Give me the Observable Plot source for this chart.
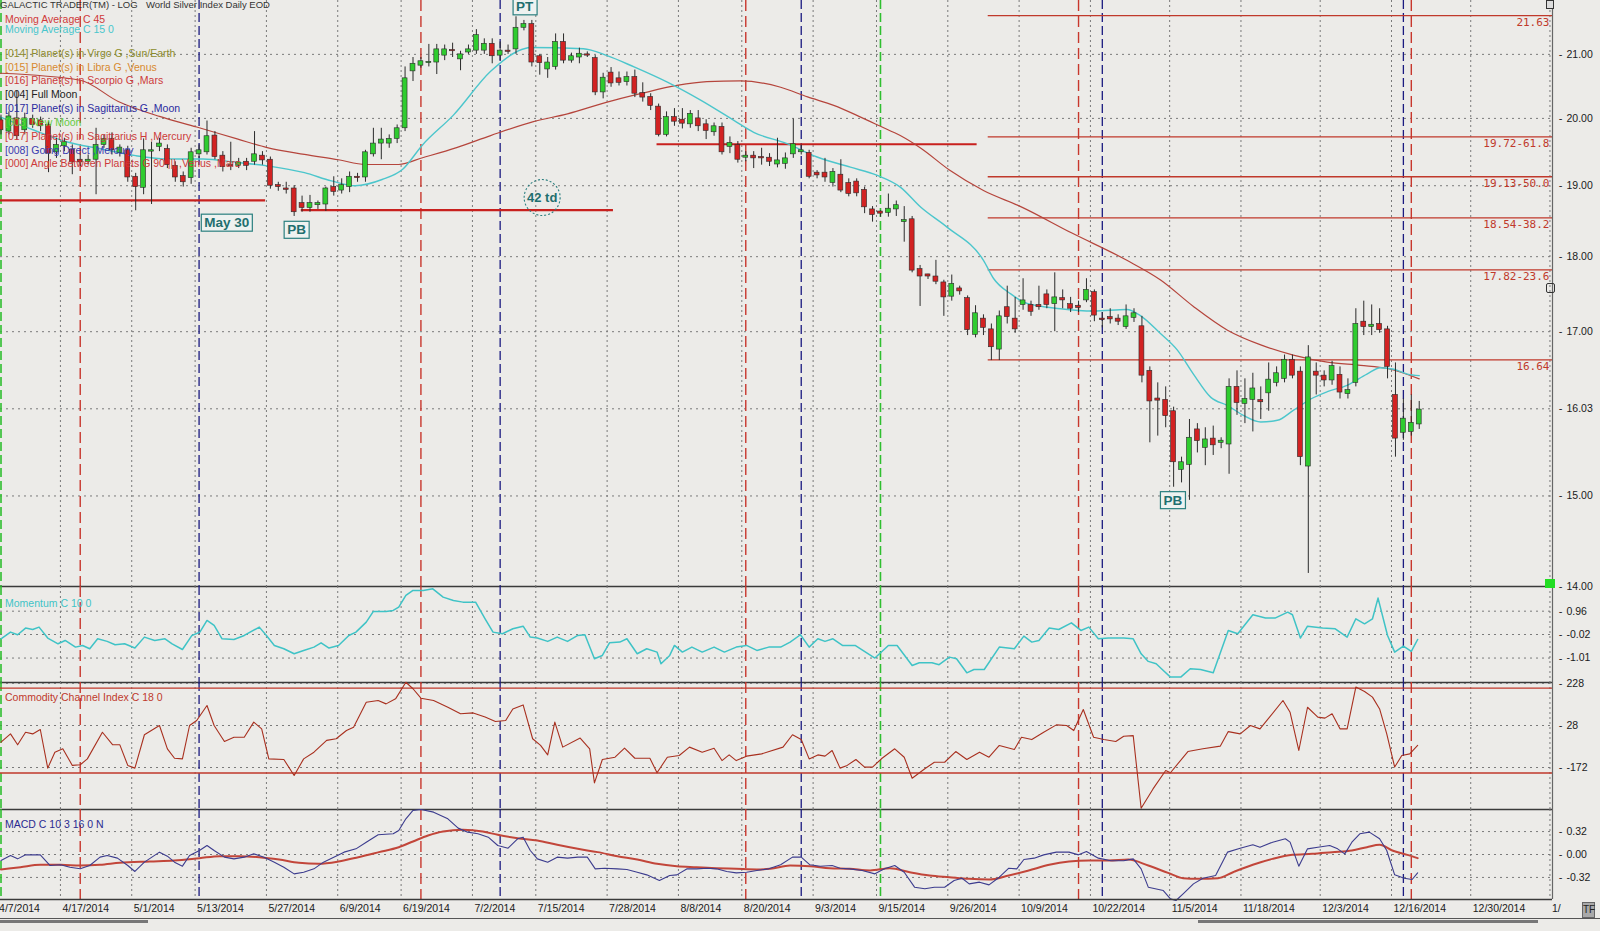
<!DOCTYPE html>
<html><head><meta charset="utf-8">
<script src="https://cdn.jsdelivr.net/npm/d3@7"></script>
<script src="https://cdn.jsdelivr.net/npm/@observablehq/plot@0.6"></script>
<style>
html,body{margin:0;padding:0;background:#ecebe8;}
#wrap{position:relative;width:1600px;height:931px;overflow:hidden;background:#ecebe8;font-family:"Liberation Sans",Arial,sans-serif;}
#wrap svg{position:absolute;left:0;overflow:visible;}
.lg{position:absolute;font-size:10.5px;white-space:nowrap;line-height:12px;z-index:5;}
.ui{position:absolute;z-index:6;}
</style></head>
<body><div id="wrap"></div>
<script>
// ---------- DATA (bar index 0 = 4/7/2014, trading days) ----------
const candleOpen = [
19.97,19.80,20.00,19.82,19.99,19.97,19.90,19.49,19.58,19.53,
19.38,19.35,19.38,19.60,19.69,19.48,19.52,19.13,18.97,19.50,
19.57,19.54,19.29,19.14,19.11,19.46,19.49,19.74,19.44,19.30,
19.29,19.35,19.35,19.44,19.38,19.01,18.96,18.96,18.75,18.68,
18.72,18.73,18.98,18.93,18.98,19.13,19.12,19.46,19.62,19.62,
19.69,19.85,20.73,20.82,20.86,20.87,20.98,21.07,20.92,21.03,
21.06,21.06,21.17,20.98,21.06,21.08,21.43,21.49,20.97,20.76,
20.80,21.20,20.90,20.95,21.00,20.94,20.40,20.71,20.62,20.56,
20.64,20.39,20.33,20.18,19.75,20.02,19.98,19.91,20.00,19.91,
19.79,19.87,19.57,19.60,19.41,19.44,19.42,19.41,19.31,19.32,
19.46,19.49,19.48,19.19,19.19,19.04,19.16,19.04,19.06,18.94,
18.66,18.60,18.61,18.66,18.48,18.52,17.83,17.73,17.73,17.65,
17.46,17.57,17.44,16.96,17.17,17.03,16.77,17.32,17.17,17.35,
17.35,17.35,17.49,17.36,17.44,17.36,17.31,17.41,17.52,17.17,
17.19,17.17,17.06,17.18,17.07,16.50,16.13,16.14,16.00,15.30,
15.36,15.78,15.56,15.67,15.62,15.60,16.30,16.09,16.14,16.11,
16.22,16.35,16.40,16.64,16.49,15.34,16.49,16.44,16.38,16.45,
16.21,16.35,17.13,17.06,17.10,17.03,16.20,15.74,15.75,15.84];
const candleHigh = [
20.05,20.10,20.42,20.08,20.05,20.02,19.95,19.70,19.70,19.60,
19.45,19.45,19.85,19.75,19.78,19.60,19.58,19.18,19.69,19.64,
19.70,19.60,19.35,19.20,19.55,19.60,19.96,19.80,19.50,19.64,
19.40,19.40,19.80,19.50,19.42,19.05,19.05,19.00,18.85,18.86,
18.78,18.98,19.13,19.10,19.20,19.18,19.52,19.85,19.85,19.75,
19.90,20.80,20.95,20.95,21.16,21.16,21.15,21.18,21.05,21.15,
21.40,21.25,21.25,21.20,21.15,21.61,21.55,21.55,21.00,20.95,
21.33,21.33,21.02,21.10,21.04,20.98,20.70,20.79,20.72,20.72,
20.75,20.55,20.38,20.22,20.10,20.15,20.15,20.12,20.12,19.98,
19.93,19.93,19.72,19.65,19.50,19.50,19.55,19.47,19.70,19.48,
19.99,19.60,19.52,19.22,19.40,19.25,19.38,19.10,19.10,18.98,
18.70,18.64,18.88,18.78,18.70,18.56,17.88,17.76,17.95,17.68,
17.75,17.60,17.47,17.34,17.22,17.10,17.27,17.60,17.45,17.70,
17.40,17.60,17.55,17.78,17.55,17.45,17.40,17.70,17.55,17.25,
17.30,17.22,17.35,17.30,17.20,16.55,16.35,16.30,16.05,15.45,
15.90,15.85,15.80,15.82,15.68,16.40,16.50,16.40,16.47,16.30,
16.60,16.55,16.70,16.70,16.55,16.82,16.60,16.50,16.62,16.55,
16.40,17.30,17.40,17.35,17.30,17.07,16.60,16.15,16.20,16.12];
const candleLow = [
19.75,19.75,19.68,19.75,19.85,19.80,19.19,19.40,19.50,19.16,
19.28,19.30,18.87,19.55,19.45,19.42,19.05,18.64,18.87,18.73,
19.50,19.25,19.05,18.98,19.02,19.40,19.45,19.38,19.20,19.22,
19.25,19.22,19.30,19.30,18.95,18.92,18.88,18.56,18.62,18.62,
18.66,18.63,18.85,18.88,18.90,19.05,19.05,19.42,19.38,19.55,
19.62,19.80,20.57,20.78,20.80,20.68,20.90,20.95,20.74,21.00,
21.00,21.00,20.85,20.90,21.00,21.00,21.38,20.80,20.67,20.62,
20.75,20.85,20.86,20.85,20.95,20.35,20.30,20.48,20.50,20.50,
20.32,20.25,20.12,19.72,19.72,19.88,19.84,19.85,19.80,19.68,
19.73,19.45,19.47,19.33,19.35,19.25,19.30,19.28,19.26,19.24,
19.40,19.45,19.10,19.10,19.05,18.98,18.90,18.84,18.84,18.60,
18.48,18.55,18.55,18.56,18.20,17.78,17.33,17.69,17.62,17.20,
17.40,17.48,16.95,16.92,16.95,16.63,16.63,17.10,16.98,17.28,
17.20,17.28,17.30,17.00,17.30,17.25,17.25,17.38,17.13,17.05,
17.10,17.08,17.03,17.12,16.35,15.62,15.70,15.80,15.10,15.15,
14.95,15.50,15.35,15.47,15.55,15.25,15.95,15.85,15.75,15.90,
16.00,16.30,16.35,16.40,15.35,14.14,16.20,16.30,16.32,16.15,
16.15,16.30,16.95,16.95,16.98,16.40,15.45,15.65,15.70,15.78];
const candleClose = [
19.82,20.03,19.73,20.00,19.90,19.88,19.47,19.60,19.64,19.34,
19.34,19.38,19.60,19.69,19.52,19.56,19.12,18.98,19.52,19.52,
19.62,19.30,19.12,19.05,19.49,19.52,19.73,19.42,19.27,19.28,
19.34,19.29,19.46,19.37,19.00,18.98,18.94,18.62,18.68,18.75,
18.73,18.96,18.91,19.01,19.13,19.11,19.49,19.62,19.68,19.69,
19.85,20.62,20.85,20.89,20.88,21.08,21.08,21.05,21.00,21.08,
21.31,21.17,20.97,21.06,21.04,21.43,21.49,20.87,20.86,20.87,
21.20,20.90,20.97,21.01,20.98,20.40,20.63,20.54,20.55,20.64,
20.38,20.32,20.19,19.75,20.02,19.95,19.92,20.07,19.88,19.81,
19.88,19.49,19.63,19.38,19.44,19.40,19.40,19.35,19.37,19.40,
19.61,19.52,19.13,19.15,19.12,19.20,18.93,18.88,18.89,18.69,
18.58,18.59,18.67,18.72,18.51,17.81,17.73,17.72,17.66,17.45,
17.63,17.53,17.02,17.24,17.05,16.80,17.20,17.19,17.03,17.41,
17.26,17.32,17.35,17.45,17.41,17.30,17.30,17.55,17.21,17.15,
17.16,17.13,17.20,17.24,16.44,16.12,16.12,15.94,15.39,15.39,
15.68,15.64,15.66,15.59,15.63,16.30,16.10,16.15,16.28,16.10,
16.39,16.47,16.64,16.44,15.45,16.67,16.44,16.38,16.56,16.23,
16.26,17.10,17.06,17.09,17.02,16.55,15.67,15.91,15.86,16.02];

const ma45Bar = [-0.06,10.0,14.8,20.0,24.7,29.8,33.6,38.3,42.6,46.0,50.2,53.2,57.5,61.8,67.2,71.5,76.5,80.7,85.3,89.1,93.3,98.4,101.8,105.1,108.5,111.0,113.5,116.1,119.8,124.0,128.7,135.1,142.1,146.4,150.5,154.8,159.0,163.1,167.4,171.6,175.0,179.0];
const ma45Val = [20.70,20.59,20.26,20.03,19.87,19.69,19.56,19.46,19.38,19.31,19.31,19.41,19.56,19.74,19.95,20.07,20.25,20.38,20.51,20.57,20.58,20.48,20.33,20.20,20.02,19.88,19.74,19.55,19.22,18.93,18.70,18.33,17.95,17.68,17.33,17.02,16.83,16.70,16.61,16.57,16.53,16.40];
const ma15Bar = [-0.06,4.2,8.5,12.7,17.0,21.3,25.5,29.8,33.6,38.3,41.7,44.7,48.1,50.7,53.2,57.1,61.8,65.2,66.8,73.5,76.5,79.9,84.1,88.3,92.5,95.0,99.2,103.0,107.2,110.6,113.5,116.1,119.4,124.0,125.3,127.4,129.5,133.7,137.9,142.1,143.8,146.3,148.5,150.5,152.7,154.8,156.8,159.0,161.1,163.1,165.3,167.4,169.9,172.4,174.1,175.8,177.5,179.0];
const ma15Val = [20.02,19.82,19.64,19.54,19.44,19.39,19.39,19.34,19.29,19.19,19.07,19.00,19.09,19.24,19.60,20.05,20.73,21.05,21.11,21.09,20.98,20.80,20.56,20.28,19.97,19.79,19.62,19.42,19.27,19.15,18.98,18.69,18.41,17.95,17.70,17.50,17.37,17.30,17.27,17.29,17.21,16.98,16.76,16.46,16.17,16.07,15.95,15.87,15.89,16.01,16.15,16.24,16.32,16.46,16.54,16.52,16.46,16.44];

const momBar = [0,1.2,2.1,3.1,4.0,4.8,5.9,7.2,8.1,9.4,10.3,11.2,12.2,13.4,14.4,15.6,16.9,18.1,19.4,20.7,21.6,22.9,24.1,25.1,26.0,26.9,27.9,29.4,30.7,32.6,33.5,34.5,35.7,37.0,38.2,39.5,40.4,41.4,42.6,43.9,44.8,46.1,47.0,48.6,49.5,50.2,51.1,52.0,53.3,54.5,55.8,57.1,58.3,59.9,61.1,62.1,63.3,64.6,65.9,66.8,67.7,69.0,70.2,71.5,72.8,73.7,74.9,75.9,76.8,78.1,79.0,80.3,81.5,82.8,83.3,84.4,85.0,86.0,87.2,88.5,90.0,91.3,92.8,94.1,95.4,96.9,
98.4,99.6,100.9,102.0,103.1,104.0,105.0,106.2,107.8,110.3,112.0,113.1,115.0,115.9,117.5,118.4,119.7,120.6,121.9,122.8,124.1,126.0,127.9,129.1,130.1,131.0,132.3,133.5,135.1,136.3,137.3,138.5,139.8,141.7,142.9,143.9,144.8,145.8,146.7,147.6,148.9,150.1,151.4,153.0,154.9,156.1,158.0,159.6,160.8,162.4,163.0,164.0,164.9,166.8,168.4,169.9,171.0,172.1,173.1,173.8,175.0,175.9,177.0,178.0,178.8];
const momVal = [-0.20,0.08,-0.03,0.25,0.19,0.29,-0.17,-0.41,-0.27,-0.55,-0.48,-0.62,-0.20,-0.31,-0.45,-0.41,-0.59,-0.13,-0.27,-0.20,-0.41,-0.65,-0.06,0.08,0.57,0.36,-0.20,-0.23,-0.06,0.29,-0.06,-0.48,-0.62,-0.83,-0.69,-0.55,-0.37,-0.59,-0.48,-0.06,0.08,0.50,0.95,0.95,0.99,1.13,1.62,1.83,1.83,1.90,1.55,1.41,1.34,1.34,0.64,0.08,0.01,0.22,0.33,-0.13,-0.17,-0.31,-0.13,-0.31,-0.06,-0.03,-1.04,-0.90,-0.37,-0.34,-0.20,-0.83,-0.62,-0.76,-1.25,-0.90,-0.48,-0.76,-0.55,-0.76,-0.55,-0.76,-0.55,-0.48,-0.69,-0.55,
-0.55,-0.34,-0.03,-0.55,-0.20,-0.31,-0.20,-0.48,-0.48,-1.01,-0.48,-0.48,-1.32,-1.21,-1.21,-1.29,-0.97,-1.04,-1.63,-1.49,-1.49,-0.55,-0.62,-0.09,-0.34,-0.27,0.25,0.19,0.47,0.15,0.29,-0.20,-0.17,-0.17,-0.20,-0.83,-1.15,-1.25,-1.53,-1.81,-1.81,-1.46,-1.49,-1.63,0.15,0.01,0.81,0.67,0.67,0.92,0.81,-0.17,0.33,0.25,0.22,-0.13,0.64,0.43,0.64,1.51,-0.06,-0.76,-0.51,-0.73,-0.23];

const cciBar = [0,1.2,2.1,3.1,4.0,4.96,5.9,6.8,7.8,9.0,10.0,10.9,12.8,14.1,15.0,16.0,16.9,18.1,20.0,21.0,21.9,22.9,23.8,24.7,26.0,26.9,28.2,29.4,30.7,31.9,32.9,33.8,35.7,37.0,38.2,39.5,41.1,42.3,43.6,44.5,46.1,47.6,48.6,49.8,51.1,52.0,53.0,54.6,56.4,58.0,59.6,61.1,62.4,63.7,64.6,65.9,67.1,68.1,69.0,69.9,70.9,73.1,74.3,74.9,75.9,77.5,78.7,80.0,81.9,82.8,84.1,85.6,86.9,88.5,90.0,91.0,91.9,92.8,94.1,96.0,
98.7,99.9,101.0,102.0,103.1,104.0,104.9,105.9,106.8,107.9,109.0,110.0,111.2,112.8,114.0,115.0,116.6,117.8,119.1,120.5,121.9,123.5,124.7,126.0,127.9,128.8,130.1,131.6,133.2,134.5,135.4,136.6,137.9,139.2,140.7,141.7,142.9,143.9,145.4,147.0,147.6,149.8,151.7,153.9,154.9,156.4,157.7,158.9,161.8,162.7,163.8,164.9,166.2,167.1,168.0,169.0,169.9,171.0,172.1,173.1,174.0,174.9,175.9,176.8,177.8,178.8];
const cciVal = [-51,-12,-64,-4,-12,9,-175,-99,-83,-162,-159,-131,-4,-64,-64,-162,-175,-16,28,-83,-128,-131,28,52,123,28,-48,-28,-28,44,12,-131,-134,-210,-131,-99,-43,-35,4,20,139,147,131,155,234,203,158,147,115,84,88,68,47,52,107,126,-35,-67,-112,44,-75,-32,-83,-245,-134,-123,-80,-128,-128,-197,-123,-115,-75,-99,-80,-139,-112,-139,-118,-107,
-75,-16,-39,-131,-112,-118,-91,-175,-162,-134,-170,-170,-128,-83,-123,-223,-178,-147,-147,-96,-134,-99,-123,-67,-86,-28,-39,-4,31,28,4,104,-28,-39,-48,-23,-20,-366,-274,-186,-197,-96,-83,-70,-1,-12,28,12,147,91,-91,115,68,63,84,12,12,211,190,163,107,-12,-170,-115,-107,-67];

const macdBar = [0,1.2,2.1,3.1,4.96,6.2,7.5,8.7,10.0,11.2,12.5,13.4,14.7,16.0,16.9,18.1,20.0,21.0,21.9,22.9,23.8,25.05,26.0,26.9,28.2,29.4,30.7,31.9,33.2,34.5,35.7,37.0,38.2,39.5,40.7,42.0,43.3,44.8,46.1,47.6,49.5,50.2,51.1,52.0,53.0,54.6,56.4,57.7,58.9,60.2,61.5,62.7,64.0,65.2,65.9,66.8,67.7,69.0,70.2,71.5,72.8,74.0,75.0,76.2,77.8,79.0,80.3,81.5,83.1,84.4,85.3,86.6,87.8,89.1,90.3,91.6,92.8,94.1,95.4,96.9,
98.4,99.9,101.0,102.1,103.4,104.9,105.9,107.1,108.7,110.3,111.5,112.8,114.0,115.3,116.6,117.8,119.1,120.3,121.3,122.2,123.5,124.7,126.0,127.2,128.2,129.1,130.4,131.6,133.2,134.8,136.0,137.0,138.5,140.1,141.7,142.9,143.9,144.8,146.7,147.6,148.3,149.2,150.5,151.7,153.3,154.8,156.4,158.0,158.9,160.5,162.1,162.7,163.8,164.9,166.2,167.7,168.7,169.6,170.5,171.5,172.7,174.0,174.9,175.9,177.1,178.1,178.8];
const macdVal = [-0.084,-0.014,-0.061,-0.005,-0.005,-0.154,-0.144,-0.177,-0.200,-0.154,-0.037,-0.014,-0.051,-0.154,-0.237,-0.107,0.033,-0.023,-0.107,-0.163,-0.014,0.056,0.126,0.056,-0.037,-0.061,-0.037,0.009,-0.037,-0.107,-0.177,-0.270,-0.247,-0.200,-0.107,-0.037,0.033,0.079,0.172,0.275,0.289,0.335,0.498,0.615,0.628,0.591,0.498,0.368,0.312,0.289,0.242,0.126,0.088,0.219,0.242,0.056,-0.061,-0.107,-0.037,-0.051,-0.037,-0.037,-0.200,-0.191,-0.200,-0.209,-0.247,-0.284,-0.363,-0.293,-0.284,-0.200,-0.200,-0.191,-0.200,-0.237,-0.256,-0.247,-0.223,-0.200,
-0.144,-0.037,-0.037,-0.144,-0.163,-0.154,-0.191,-0.200,-0.223,-0.270,-0.200,-0.154,-0.247,-0.456,-0.479,-0.456,-0.456,-0.363,-0.331,-0.410,-0.386,-0.424,-0.317,-0.191,-0.200,-0.070,-0.051,-0.005,0.033,0.033,-0.005,0.042,-0.051,-0.088,-0.088,-0.061,-0.200,-0.456,-0.503,-0.619,-0.642,-0.549,-0.410,-0.331,-0.293,0.033,0.088,0.135,0.102,0.172,0.219,0.172,-0.163,0.079,0.102,0.126,0.079,0.009,0.172,0.289,0.312,0.219,0.056,-0.284,-0.331,-0.349,-0.256];
const signalBar = [0,2.45,4.96,7.5,10.0,12.5,15.0,18.8,21.9,25.05,27.6,30.1,32.6,35.1,37.6,40.1,42.6,45.1,47.7,50.2,52.0,53.9,55.8,58.3,60.8,62.7,65.2,67.7,70.2,72.8,75.3,77.8,80.3,82.8,85.3,87.8,90.3,92.8,95.4,
97.1,99.6,102.1,104.6,107.1,109.7,112.2,114.7,117.2,119.7,122.2,124.7,127.2,129.7,132.3,134.8,137.3,139.8,142.3,144.8,147.3,149.2,151.1,153.6,155.5,158.0,160.5,163.0,165.5,168.0,170.5,172.4,174.0,175.6,177.5,178.8];
const signalVal = [-0.209,-0.177,-0.144,-0.144,-0.154,-0.144,-0.116,-0.098,-0.084,-0.051,-0.023,-0.023,-0.037,-0.070,-0.116,-0.130,-0.098,-0.037,0.033,0.102,0.182,0.265,0.321,0.344,0.321,0.275,0.228,0.196,0.135,0.079,0.033,-0.023,-0.070,-0.130,-0.163,-0.177,-0.191,-0.200,-0.209,
-0.200,-0.154,-0.163,-0.191,-0.200,-0.223,-0.191,-0.247,-0.293,-0.317,-0.340,-0.349,-0.293,-0.223,-0.144,-0.098,-0.084,-0.084,-0.070,-0.154,-0.256,-0.331,-0.340,-0.331,-0.247,-0.144,-0.061,-0.005,0.009,0.033,0.056,0.102,0.135,0.056,-0.005,-0.051];

const tickBars = [0,8,17,25,34,43,51,60,68,77,86,94,103,111,120,129,138,148,157,167,176,186,196];
const tickLabels = ["4/7/2014","4/17/2014","5/1/2014","5/13/2014","5/27/2014","6/9/2014","6/19/2014","7/2/2014","7/15/2014","7/28/2014","8/8/2014","8/20/2014","9/3/2014","9/15/2014","9/26/2014","10/9/2014","10/22/2014","11/5/2014","11/18/2014","12/3/2014","12/16/2014","12/30/2014","1/"];

const eventBars = [0,10,25,53,63,94,101,111,136,139,177,178];
const eventKinds = ["green","red","blue","red","blue","red","blue","green","red","blue","blue","red"];

const priceTicks = [21,20,19,18,17,16.03,15,14];
const momTicks = [0.96,-0.02,-1.01];
const cciTicks = [228,28,-172];
const cciBands = [206,-198];
const macdTicks = [0.32,0.00,-0.32];

const fibLevels = [21.63,19.72,19.13,18.54,17.82,16.64];
const fibLabels = ["21.63","19.72-61.8","19.13-50.0","18.54-38.2","17.82-23.6","16.64"];
const fibStartBar = 124.6;
const supportLevels = [18.79,18.65,19.61];
const supportFrom = [-0.06,37.9,82.8];
const supportTo = [33.4,77.3,123.2];

const annoText = ["May 30","PB","PB","PT"];
const annoBar = [28.5,37.3,147.9,66.1];
const annoPrice = [18.47,18.37,14.95,21.78];
const circleText = "42 td";
const circleBar = 68.3, circlePrice = 18.83;

const legendTexts = ["Moving Average C 45","Moving Average C 15 0","[014] Planet(s) in Virgo G ,Sun/Earth","[015] Planet(s) in Libra G ,Venus","[016] Planet(s) in Scorpio G ,Mars","[004] Full Moon","[017] Planet(s) in Sagittarius G ,Moon","[003] New Moon","[017] Planet(s) in Sagittarius H ,Mercury","[008] Going Direct ,Mercury","[000] Angle Between Planets G 90 ||| ,Venus ,Mars"];

// ---------- BUILD ----------
const wrap = document.getElementById("wrap");
const xDomain = [-0.063, 195.82];
const FONT = "Liberation Sans, Arial, sans-serif";
const zip = (K, V) => K.map((k, i) => ({k, v: V[i]}));
const candles = candleOpen.map((o, i) => ({k: i, o, h: candleHigh[i], l: candleLow[i], c: candleClose[i]}));
const events = eventBars.map((k, i) => ({k, kind: eventKinds[i]}));
const ticks = tickBars.map((b, i) => ({pos: b - 0.5, label: tickLabels[i]}));
const evStyle = {red: {stroke: "#c8372d", dash: "11,5", w: 1.4}, blue: {stroke: "#1b1b80", dash: "9,4", w: 1.3}, green: {stroke: "#2fbf2f", dash: "9,4", w: 1.6}};

function common() {
  const m = [Plot.ruleX(ticks, {x: "pos", stroke: "#7a7a7a", strokeWidth: 1, strokeDasharray: "2,3"})];
  for (const kind of ["green", "red", "blue"]) {
    const s = evStyle[kind];
    m.push(Plot.ruleX(events.filter(e => e.kind === kind), {x: "k", stroke: s.stroke, strokeWidth: s.w, strokeDasharray: s.dash}));
  }
  return m;
}
function frameRight() { return Plot.ruleX([xDomain[1]], {stroke: "#666", strokeWidth: 1.2}); }
function rightLabels(vals, fmt) {
  return [
    Plot.text(vals, {y: d => d, text: () => "-", frameAnchor: "right", dx: 8, fill: "#222", fontSize: 11, textAnchor: "middle"}),
    Plot.text(vals, {y: d => d, text: fmt, frameAnchor: "right", dx: 14, textAnchor: "start", fill: "#1a1a1a", fontSize: 10.5, fontFamily: FONT})
  ];
}
function hgrid(vals) { return Plot.ruleY(vals, {y: d => d, stroke: "#7a7a7a", strokeWidth: 1, strokeDasharray: "2,4"}); }
function base(h, mb, y) {
  return {width: 1600, height: h, marginTop: 0, marginBottom: mb, marginLeft: 0, marginRight: 48,
    x: {domain: xDomain, axis: null}, y: {...y, axis: null},
    style: {background: "transparent", overflow: "visible", fontFamily: FONT, fontSize: "10.5px"}};
}
function place(svg, top) { svg.style.top = top + "px"; svg.style.left = "0px"; wrap.appendChild(svg); return svg; }

// Price panel
const pricePlot = Plot.plot({
  ...base(587, 1, {type: "log", domain: [14, 21.88]}),
  marks: [
    hgrid(priceTicks.filter(d => d !== 14)),
    ...common(),
    Plot.ruleY(fibLevels, {y: d => d, x1: fibStartBar, x2: xDomain[1], stroke: "#c0392b", strokeWidth: 1.3}),
    Plot.ruleY(supportLevels.map((v, i) => ({v, a: supportFrom[i], b: supportTo[i]})), {y: "v", x1: "a", x2: "b", stroke: "#c8201e", strokeWidth: 2.2}),
    Plot.line(zip(ma45Bar, ma45Val), {x: "k", y: "v", stroke: "#b5453c", strokeWidth: 1.2, curve: "monotone-x"}),
    Plot.line(zip(ma15Bar, ma15Val), {x: "k", y: "v", stroke: "#4cc6cc", strokeWidth: 1.4, curve: "monotone-x"}),
    Plot.ruleX(candles, {x: "k", y1: "l", y2: "h", stroke: "#2b2b2b", strokeWidth: 1}),
    Plot.rect(candles, {x1: d => d.k - 0.31, x2: d => d.k + 0.31, y1: "o",
      y2: d => Math.abs(d.c - d.o) < 0.012 ? d.o * 1.0016 : d.c,
      fill: d => d.c >= d.o ? "#2fcc2f" : "#d22222", stroke: "#2a2a2a", strokeWidth: 0.6}),
    Plot.text(fibLevels.map((v, i) => ({v, t: fibLabels[i]})), {y: "v", text: "t", frameAnchor: "right", dx: -3, dy: 7, textAnchor: "end", fill: "#c0392b", fontSize: 11, fontFamily: "DejaVu Sans Mono, monospace"}),
    Plot.dot([{k: circleBar, v: circlePrice}], {x: "k", y: "v", r: 18, stroke: "#2a7f7f", strokeWidth: 1.1, strokeDasharray: "2,2", fill: "none"}),
    Plot.text([{k: circleBar, v: circlePrice, t: circleText}], {x: "k", y: "v", text: "t", fill: "#1f6f6f", fontWeight: "bold", fontSize: 13, fontFamily: FONT}),
    Plot.text(annoText.map((t, i) => ({t, k: annoBar[i], v: annoPrice[i]})), {x: "k", y: "v", text: "t", fill: "#1f6f6f", fontWeight: "bold", fontSize: 13.5, fontFamily: FONT}),
    Plot.ruleY([14], {stroke: "#3a3a3a", strokeWidth: 1.5}),
    frameRight(),
    ...rightLabels(priceTicks, d => d.toFixed(2))
  ]
});
place(pricePlot, 0);
// boxes around annotation labels
pricePlot.querySelectorAll("text").forEach(t => {
  if (!annoText.includes(t.textContent)) return;
  const b = t.getBBox();
  const r = document.createElementNS("http://www.w3.org/2000/svg", "rect");
  r.setAttribute("x", b.x - 3); r.setAttribute("y", b.y - 1);
  r.setAttribute("width", b.width + 6); r.setAttribute("height", b.height + 2);
  r.setAttribute("fill", "#eef2f0"); r.setAttribute("stroke", "#2a7f7f"); r.setAttribute("stroke-width", "1.2");
  if (t.getAttribute("transform")) r.setAttribute("transform", t.getAttribute("transform"));
  t.parentNode.insertBefore(r, t);
});

// Momentum
place(Plot.plot({
  ...base(96, 0, {domain: [-2.037, 1.997]}),
  marks: [
    hgrid(momTicks), ...common(),
    Plot.line(zip(momBar, momVal), {x: "k", y: "v", stroke: "#3fc3c6", strokeWidth: 1.5}),
    Plot.ruleY([-2.037], {stroke: "#3a3a3a", strokeWidth: 1.5}),
    frameRight(), ...rightLabels(momTicks, d => d.toFixed(2))
  ]
}), 586);

// CCI
place(Plot.plot({
  ...base(127, 0, {domain: [-372, 232.8]}),
  marks: [
    hgrid(cciTicks), ...common(),
    Plot.ruleY(cciBands, {y: d => d, stroke: "#c0392b", strokeWidth: 1.4}),
    Plot.line(zip(cciBar, cciVal), {x: "k", y: "v", stroke: "#a8301f", strokeWidth: 1.1}),
    Plot.ruleY([-372], {stroke: "#3a3a3a", strokeWidth: 1.5}),
    frameRight(), ...rightLabels(cciTicks, d => String(d))
  ]
}), 682);

// MACD + x axis
place(Plot.plot({
  ...base(122, 32, {domain: [-0.628, 0.628]}),
  marks: [
    hgrid(macdTicks), ...common(),
    Plot.line(zip(signalBar, signalVal), {x: "k", y: "v", stroke: "#c2463a", strokeWidth: 2, curve: "monotone-x"}),
    Plot.line(zip(macdBar, macdVal), {x: "k", y: "v", stroke: "#3c3c8e", strokeWidth: 1.1}),
    Plot.ruleY([-0.628], {stroke: "#3a3a3a", strokeWidth: 1.5}),
    frameRight(), ...rightLabels(macdTicks, d => d.toFixed(2)),
    Plot.text(ticks, {x: "pos", text: "label", frameAnchor: "bottom", dy: 12, dx: 2, textAnchor: "start", fill: "#1a1a1a", fontSize: 10.5, fontFamily: FONT})
  ]
}), 809);

// ---------- text overlays ----------
function addDiv(text, left, top, color, extra) {
  const d = document.createElement("div");
  d.className = "lg"; d.textContent = text;
  d.style.left = left + "px"; d.style.top = top + "px"; d.style.color = color;
  if (extra) Object.assign(d.style, extra);
  wrap.appendChild(d); return d;
}
addDiv("GALACTIC TRADER(TM) - LOG", 0, -1, "#333", {fontSize: "9.5px", lineHeight: "11px"});
addDiv("World Silver Index Daily EOD", 146, -1, "#333", {fontSize: "9.5px", lineHeight: "11px"});
const legendColors = ["#d03a3a","#48c6cc","#8c8c2a","#d8892e","#cc3a3a","#222222","#2a2aa0","#66cc44","#cc3a3a","#3a3ab0","#cc3a3a"];
const legendCenters = [19,29,53,66.7,80.3,94.3,108.3,122,136,150,163.3];
legendTexts.forEach((t, i) => addDiv(t, 5, legendCenters[i] - 6, legendColors[i]));
addDiv("Momentum C 10 0", 5, 597, "#3fc3c6");
addDiv("Commodity Channel Index C 18 0", 5, 690.5, "#c0392b");
addDiv("MACD C 10 3 16 0 N", 5, 818, "#2a2a90");

function ui(left, top, w, h, style) {
  const d = document.createElement("div"); d.className = "ui";
  Object.assign(d.style, {left: left + "px", top: top + "px", width: w + "px", height: h + "px"}, style || {});
  wrap.appendChild(d); return d;
}
ui(1545, 579, 10, 9, {background: "#22dd22"});
ui(1546, 0, 8, 9, {border: "1px solid #333", boxSizing: "border-box", background: "#ddd"});
ui(1546, 283, 9, 10, {border: "1px solid #333", boxSizing: "border-box", borderRadius: "2px"});
ui(0, 918, 1600, 1, {background: "#555"});
ui(0, 920, 148, 3, {background: "#777"});
ui(1198, 920, 340, 3, {background: "#777"});
const tf = ui(1582, 902, 13, 16, {background: "#a9a9a9", border: "1px solid #666", boxSizing: "border-box", fontSize: "10px", color: "#222", textAlign: "center", lineHeight: "14px", fontFamily: FONT});
tf.textContent = "TF";
</script>
</body></html>
